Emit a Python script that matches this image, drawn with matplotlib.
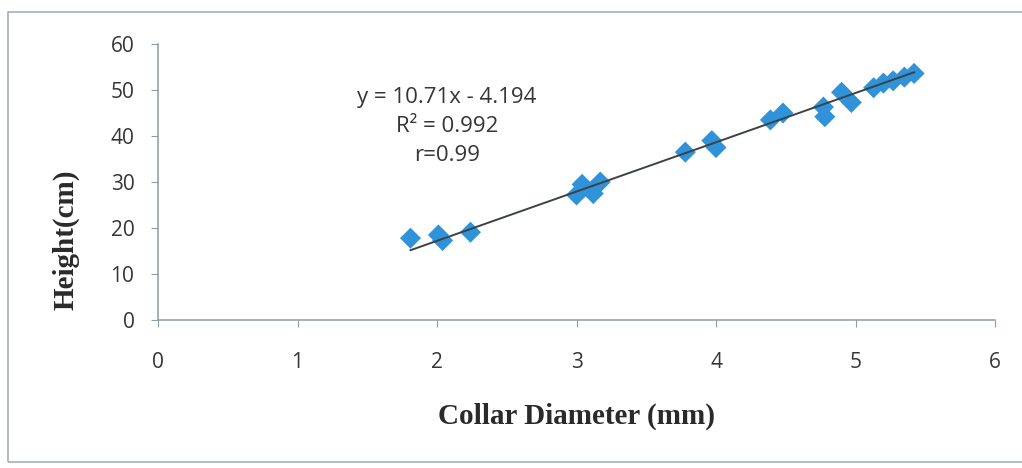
import matplotlib
matplotlib.use("Agg")
import matplotlib.pyplot as plt
from matplotlib.patches import Rectangle

# Collar diameter (mm) vs height (cm)
diameter = [1.81, 2.01, 2.04, 2.24, 3.00, 3.04, 3.12, 3.17, 3.78, 3.97, 4.00,
            4.39, 4.48, 4.77, 4.78, 4.90, 4.97, 5.13, 5.20, 5.27, 5.35, 5.42]
height = [17.8, 18.5, 17.3, 19.1, 27.2, 29.5, 27.5, 30.0, 36.5, 39.0, 37.5,
          43.5, 45.0, 46.3, 44.2, 49.5, 47.3, 50.5, 51.5, 52.0, 52.8, 53.6]

slope, intercept = 10.71, -4.194
x_ticks = [0, 1, 2, 3, 4, 5, 6]
y_ticks = [0, 10, 20, 30, 40, 50, 60]

C_PT = "#3093da"
C_AX = "#8a9ea2"
C_TXT = "#363636"

fig = plt.figure(figsize=(10.22, 4.68), dpi=100, facecolor="white")
ax = fig.add_axes([0.1546, 0.316, 0.819, 0.590])

# chart-area border (photo of an Excel chart)
fig.patches.append(Rectangle((8 / 1022, 6 / 468), 1.2, 450 / 468,
                             transform=fig.transFigure, fill=False,
                             edgecolor="#9fb3b6", linewidth=1.2))

ax.scatter(diameter, height, marker="D", s=115, color=C_PT, zorder=2,
           edgecolors="none")
x0, x1 = min(diameter), max(diameter)
ax.plot([x0, x1], [slope * x0 + intercept, slope * x1 + intercept],
        color="#3c4245", linewidth=1.4, zorder=3)

ax.text(2.07, 42.0, "y = 10.71x - 4.194\nR² = 0.992\nr=0.99",
        ha="center", va="center", fontsize=16, color=C_TXT,
        family="Open Sans", linespacing=1.5)

ax.set_xlim(0, 6)
ax.set_ylim(0, 60)
ax.set_xticks(x_ticks)
ax.set_yticks(y_ticks)
ax.tick_params(axis="both", direction="out", length=5, color=C_AX,
               labelsize=15, labelcolor=C_TXT)
ax.tick_params(axis="x", pad=18)
ax.tick_params(axis="y", pad=12)
for lab in ax.get_xticklabels() + ax.get_yticklabels():
    lab.set_family("Open Sans")

for s in ("top", "right"):
    ax.spines[s].set_visible(False)
for s in ("left", "bottom"):
    ax.spines[s].set_color(C_AX)
    ax.spines[s].set_linewidth(1.1)

ax.set_xlabel("Collar Diameter (mm)", family="Liberation Serif",
              fontweight="bold", fontsize=21, color="#2a2a2a")
ax.set_ylabel("Height(cm)", family="Liberation Serif",
              fontweight="bold", fontsize=21, color="#2a2a2a")
ax.xaxis.set_label_coords(0.5, -0.30)
ax.yaxis.set_label_coords(-0.094, 0.29)

fig.savefig("out.png", dpi=100, facecolor="white")
